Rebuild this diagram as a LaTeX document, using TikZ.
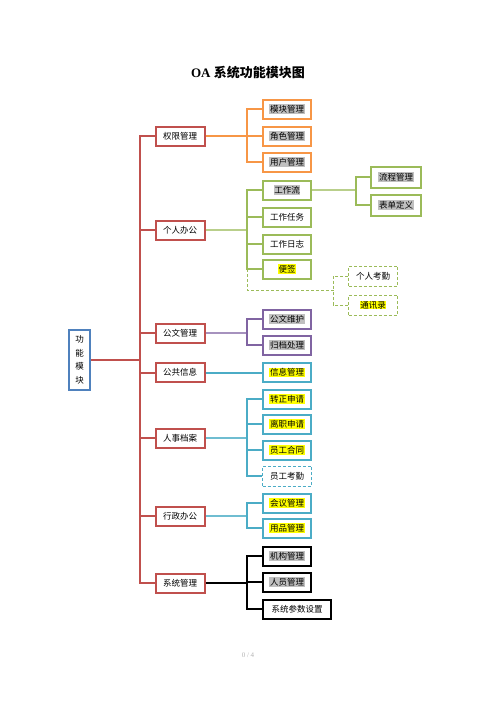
\documentclass[tikz,border=0pt]{standalone}
\usepackage{fontspec}
\setmainfont{Liberation Serif}
\newfontfamily\cjk{Noto Sans CJK SC}
\usepackage{xcolor}
\usetikzlibrary{positioning}

\definecolor{rootblue}{HTML}{4F81BD}
\definecolor{qxred}{HTML}{C0504D}
\definecolor{qxorange}{HTML}{F79646}
\definecolor{grgreen}{HTML}{9BBB59}
\definecolor{gwpurple}{HTML}{8064A2}
\definecolor{rsteal}{HTML}{4BACC6}
\definecolor{hlgray}{HTML}{C0C0C0}
\definecolor{hlyellow}{HTML}{FFFF00}

\newcommand\hgray[1]{{\setlength\fboxsep{0.6pt}\colorbox{hlgray}{#1}}}
\newcommand\hyellow[1]{{\setlength\fboxsep{0.6pt}\colorbox{hlyellow}{#1}}}

\tikzset{
  lvone/.style={draw=qxred, line width=2pt, minimum width=49pt, minimum height=19pt,
    inner sep=0pt, font=\cjk\fontsize{8.5}{10}\selectfont},
  lvtwo/.style={draw=#1, line width=2pt, minimum width=48pt, minimum height=19pt,
    inner sep=0pt, font=\cjk\fontsize{8.5}{10}\selectfont},
  lvdash/.style={draw=#1, line width=0.8pt, dash pattern=on 3pt off 2pt,
    minimum width=49pt, minimum height=20pt, inner sep=0pt, font=\cjk\fontsize{8.5}{10}\selectfont},
  link/.style={draw=#1, line width=2pt},
  dlink/.style={draw=#1, line width=0.8pt, dash pattern=on 3pt off 2pt},
}

\begin{document}
\begin{tikzpicture}[x=1pt, y=-1pt]
\useasboundingbox (0,0) rectangle (496,702);

% 标题
\node (title) at (248,73) {\fontsize{13}{15}\selectfont\bfseries OA \cjk 系统功能模块图};

% 根节点
\node[draw=rootblue, line width=2pt, minimum width=21pt, minimum height=60pt, inner sep=0pt,
  align=center, font=\cjk\fontsize{8.5}{13.5}\selectfont] (root) at (79.5,360) {功\\能\\模\\块};

% 一级模块
\node[lvone] (qx) at (180,136) {权限管理};
\node[lvone] (gr) at (180,230) {个人办公};
\node[lvone] (gw) at (180,333) {公文管理};
\node[lvone] (gg) at (180,372.5) {公共信息};
\node[lvone] (rs) at (180,438) {人事档案};
\node[lvone] (xz) at (180,516) {行政办公};
\node[lvone] (xt) at (180,583) {系统管理};

% 主干
\coordinate (T) at (140,360);
\draw[link=qxred] (root) -- (T);
\foreach \m in {qx,gr,gw,gg,rs,xz,xt}
  \draw[link=qxred] (\m.west) -| (T);

% 权限管理
\node[lvtwo=qxorange] (mk) at (287,109) {\hgray{模块管理}};
\node[lvtwo=qxorange] (js) at (287,136) {\hgray{角色管理}};
\node[lvtwo=qxorange] (yh) at (287,162) {\hgray{用户管理}};
\coordinate (qxJ) at (247,136);
\draw[link=qxorange] (qx) -- (qxJ);
\foreach \m in {mk,js,yh}
  \draw[link=qxorange] (\m.west) -| (qxJ);

% 个人办公
\node[lvtwo=grgreen] (gzl) at (287,190) {\hgray{工作流}};
\node[lvtwo=grgreen] (gzrw) at (287,217) {工作任务};
\node[lvtwo=grgreen] (gzrz) at (287,244) {工作日志};
\node[lvtwo=grgreen] (bq) at (287,269) {\hyellow{便签}};
\coordinate (grJ) at (247,230);
\draw[link=grgreen!70] (gr) -- (grJ);
\foreach \m in {gzl,gzrw,gzrz,bq}
  \draw[link=grgreen] (\m.west) -| (grJ);

\node[lvtwo=grgreen, minimum width=50pt, minimum height=21pt] (lc) at (396,177) {\hgray{流程管理}};
\node[lvtwo=grgreen, minimum width=50pt, minimum height=21pt] (bd) at (396,205) {\hgray{表单定义}};
\coordinate (gzlJ) at (356,190);
\draw[link=grgreen!70] (gzl) -- (gzlJ);
\foreach \m in {lc,bd}
  \draw[link=grgreen] (\m.west) -| (gzlJ);

% 虚线部分
\node[lvdash=grgreen] (kq) at (373,276) {个人考勤};
\node[lvdash=grgreen] (txl) at (373,305) {\hyellow{通讯录}};
\coordinate (dJ) at (247,290);
\coordinate (dK) at (333,290);
\draw[dlink=grgreen] (bq.west -| dJ) -- (dJ) -- (dK);
\foreach \m in {kq,txl}
  \draw[dlink=grgreen] (\m.west) -| (dK);

% 公文管理
\node[lvtwo=gwpurple] (gwwh) at (287,319) {\hgray{公文维护}};
\node[lvtwo=gwpurple] (gd) at (287,345) {\hgray{归档处理}};
\coordinate (gwJ) at (247,333);
\draw[link=gwpurple!70] (gw) -- (gwJ);
\foreach \m in {gwwh,gd}
  \draw[link=gwpurple] (\m.west) -| (gwJ);

% 公共信息
\node[lvtwo=rsteal] (xx) at (287,372.5) {\hyellow{信息管理}};
\draw[link=rsteal] (gg) -- (xx);

% 人事档案
\node[lvtwo=rsteal] (zz) at (287,399) {\hyellow{转正申请}};
\node[lvtwo=rsteal] (lz) at (287,424) {\hyellow{离职申请}};
\node[lvtwo=rsteal] (ht) at (287,450) {\hyellow{员工合同}};
\node[lvdash=rsteal] (ygkq) at (287,476) {员工考勤};
\coordinate (rsJ) at (247,438);
\draw[link=rsteal!80] (rs) -- (rsJ);
\foreach \m in {zz,lz,ht,ygkq}
  \draw[link=rsteal] (\m.west) -| (rsJ);

% 行政办公
\node[lvtwo=rsteal] (hy) at (287,503) {\hyellow{会议管理}};
\node[lvtwo=rsteal] (yp) at (287,528) {\hyellow{用品管理}};
\coordinate (xzJ) at (247,516);
\draw[link=rsteal!80] (xz) -- (xzJ);
\foreach \m in {hy,yp}
  \draw[link=rsteal] (\m.west) -| (xzJ);

% 系统管理
\node[lvtwo=black] (jg) at (287,556) {\hgray{机构管理}};
\node[lvtwo=black] (ry) at (287,582) {\hgray{人员管理}};
\node[lvtwo=black, minimum width=68pt] (cs) at (297,609) {系统参数设置};
\coordinate (xtJ) at (247,583);
\draw[link=black, line width=2.5pt] (xt) -- (xtJ);
\foreach \m in {jg,ry,cs}
  \draw[link=black, line width=2.5pt] (\m.west) -| (xtJ);

% 页码
\node[text=gray!60, font=\fontsize{7}{8}\selectfont] (page) at (248,655) {0 / 4};

\end{tikzpicture}
\end{document}
